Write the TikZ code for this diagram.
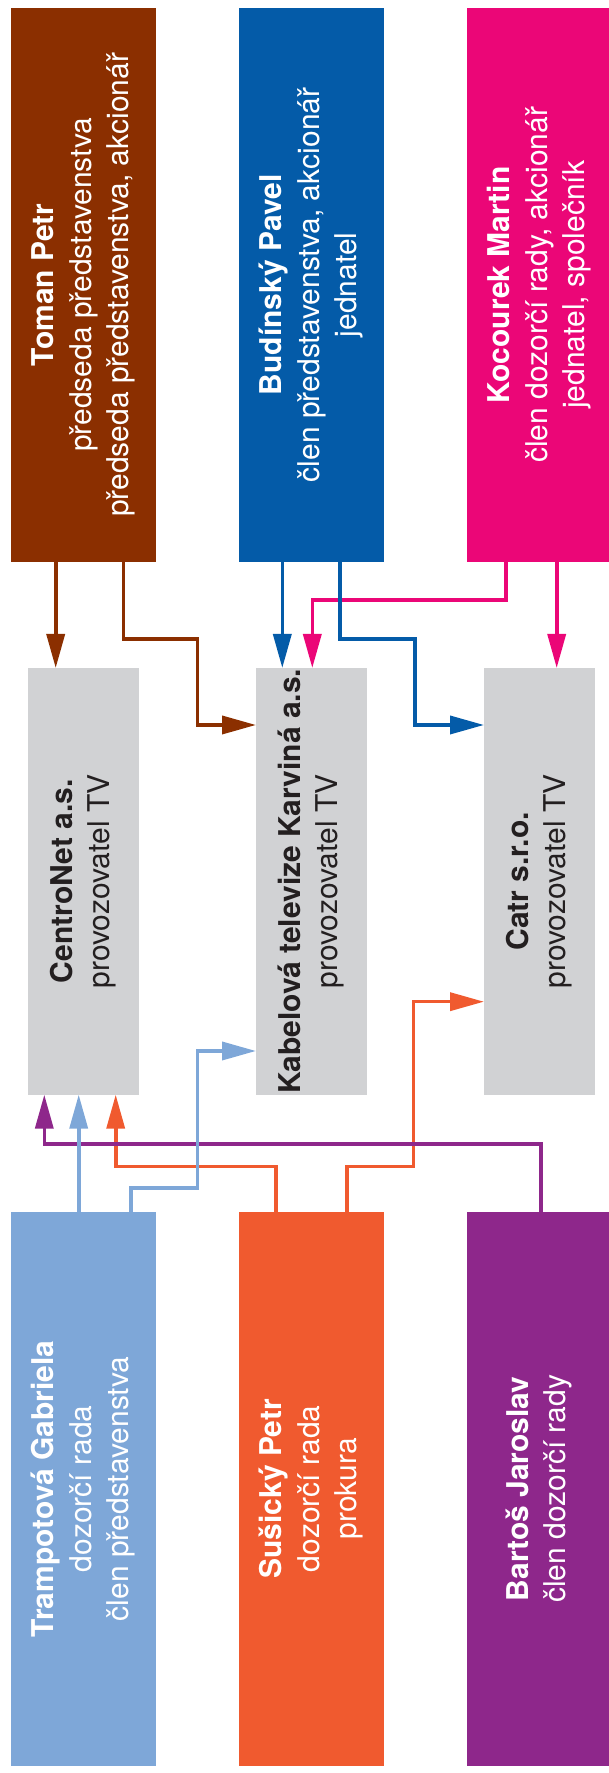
\documentclass[tikz,border=0pt]{standalone}
\usepackage{fontspec}
\setmainfont{TeX Gyre Heros}
\usepackage{tikz}
\usetikzlibrary{arrows.meta, positioning}
\usepackage{xcolor}

\definecolor{tomanbrown}{HTML}{8B2F00}
\definecolor{budblue}{HTML}{045BA8}
\definecolor{kocpink}{HTML}{EB0677}
\definecolor{tramblue}{HTML}{7EA7D8}
\definecolor{susorange}{HTML}{F05A2F}
\definecolor{barpurple}{HTML}{8E278B}
\definecolor{firmgrey}{HTML}{D1D2D4}
\definecolor{firmtext}{HTML}{231F20}

\newcommand{\vlabel}[2]{\rotatebox{90}{\begin{tabular}{@{}c@{}}\bfseries #1\\ #2\end{tabular}}}

\begin{document}
\begin{tikzpicture}[
		x=1pt, y=1pt,
		node distance=106.3pt and 83pt,
		person/.style={rectangle, minimum width=145pt, minimum height=553.7pt, inner sep=0pt, outer sep=0pt, text=white, font=\fontsize{30}{37.5}\selectfont},
		firm/.style={rectangle, fill=firmgrey, minimum width=111pt, minimum height=426.7pt, inner sep=0pt, outer sep=0pt, text=firmtext, font=\fontsize{30}{37.5}\selectfont},
		link/.style={line width=3.6pt, -{Triangle[length=34pt, width=18pt]}}
		]
		\useasboundingbox (0,0) rectangle (608,1773);
		
		% Nodes
		\node[person, fill=tomanbrown] (toman) at (83.5,1488.15) {\vlabel{Toman Petr}{předseda představenstva\\předseda představenstva, akcionář}};
		\node[person, fill=budblue, right=of toman] (budinsky) {\vlabel{Budínský Pavel}{člen představenstva, akcionář\\jednatel}};
		\node[person, fill=kocpink, right=of budinsky] (kocourek) {\vlabel{Kocourek Martin}{člen dozorčí rady, akcionář\\jednatel, společník}};
		
		\node[firm, below=of toman] (centronet) {\vlabel{CentroNet a.s.}{provozovatel TV}};
		\node[firm, below=of budinsky] (kabelova) {\vlabel{Kabelová televize Karviná a.s.}{provozovatel TV}};
		\node[firm, below=of kocourek] (catr) {\vlabel{Catr s.r.o.}{provozovatel TV}};
		
		\node[person, fill=tramblue, below=117.3pt of centronet] (trampotova) {\vlabel{Trampotová Gabriela}{dozorčí rada\\člen představenstva}};
		\node[person, fill=susorange, below=117.3pt of kabelova] (susicky) {\vlabel{Sušický Petr}{dozorčí rada\\prokura}};
		\node[person, fill=barpurple, below=117.3pt of catr] (bartos) {\vlabel{Bartoš Jaroslav}{člen dozorčí rady}};
		
		% Arrows
		\draw[link, tomanbrown] ([xshift=-27.8pt]toman.south) -- ([xshift=-27.8pt]centronet.north);
		\draw[link, tomanbrown] ([xshift=39.8pt]toman.south) -- ++(0,-77.6) -| ([xshift=-58.7pt, yshift=156.35pt]kabelova.west) -- ([yshift=156.35pt]kabelova.west);
		\draw[link, kocpink] ([xshift=-33.5pt]kocourek.south) -- ++(0,-38.3) -| ([xshift=0.8pt]kabelova.north);
		\draw[link, kocpink] ([xshift=17.2pt]kocourek.south) -- ([xshift=17.2pt]catr.north);
		\draw[link, budblue] ([xshift=-29.2pt]budinsky.south) -- ([xshift=-29.2pt]kabelova.north);
		\draw[link, budblue] ([xshift=28.5pt]budinsky.south) -- ++(0,-77.6) -| ([xshift=-69pt, yshift=156.35pt]catr.west) -- ([yshift=156.35pt]catr.west);
		
		\draw[link, susorange] ([xshift=-35.5pt]susicky.north) -- ++(0,45.3) -| ([xshift=32.2pt]centronet.south);
		\draw[link, susorange] ([xshift=35.2pt]susicky.north) -- ++(0,45.3) -| ([xshift=-70.7pt, yshift=-120.35pt]catr.west) -- ([yshift=-120.35pt]catr.west);
		\draw[link, barpurple] ([xshift=1.2pt]bartos.north) -- ++(0,67.7) -| ([xshift=-39.2pt]centronet.south);
		\draw[link, tramblue] ([xshift=-4.8pt]trampotova.north) -- ([xshift=-4.8pt]centronet.south);
		\draw[link, tramblue] ([xshift=47.5pt]trampotova.north) -- ++(0,23.7) -| ([xshift=-58.7pt, yshift=-169.65pt]kabelova.west) -- ([yshift=-169.65pt]kabelova.west);
	\end{tikzpicture}
\end{document}
